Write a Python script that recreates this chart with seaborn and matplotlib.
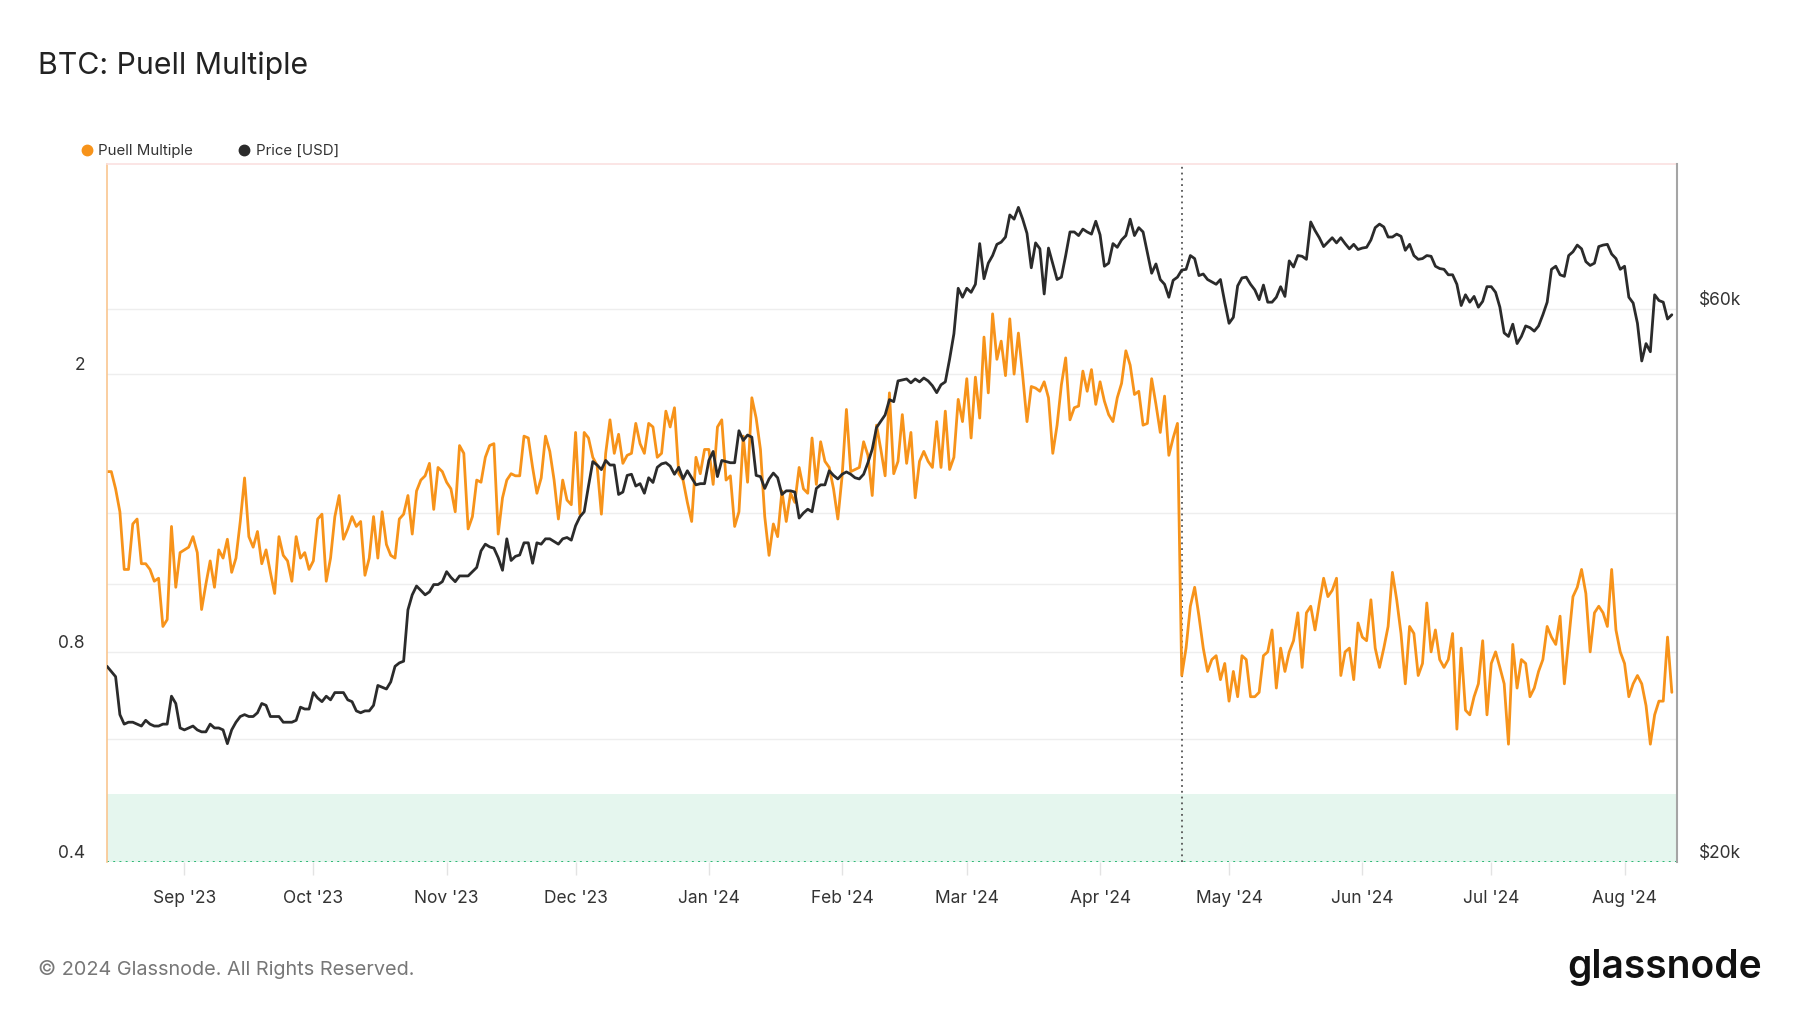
import numpy as np
import pandas as pd
import matplotlib
matplotlib.use("Agg")
from matplotlib import pyplot as plt
from matplotlib.lines import Line2D
from matplotlib.ticker import NullLocator, NullFormatter
import matplotlib.dates as mdates
import matplotlib.transforms as mtransforms
import seaborn as sns

# daily data, first day 2023-08-14
start = "2023-08-14"
halving = "2024-04-20"

puell = [
    1.45, 1.45, 1.37, 1.27, 1.05, 1.05, 1.22, 1.24, 1.07, 1.07,
    1.05, 1.01, 1.02, 0.87, 0.89, 1.21, 0.99, 1.11, 1.12, 1.13,
    1.17, 1.11, 0.92, 1.00, 1.08, 0.99, 1.12, 1.09, 1.16, 1.04,
    1.09, 1.23, 1.42, 1.17, 1.13, 1.19, 1.07, 1.12, 1.04, 0.97,
    1.17, 1.10, 1.08, 1.01, 1.17, 1.09, 1.11, 1.05, 1.08, 1.24,
    1.26, 1.01, 1.09, 1.25, 1.34, 1.16, 1.20, 1.25, 1.21, 1.23,
    1.03, 1.09, 1.25, 1.09, 1.27, 1.14, 1.10, 1.09, 1.24, 1.26,
    1.34, 1.18, 1.36, 1.41, 1.43, 1.49, 1.28, 1.47, 1.45, 1.40,
    1.37, 1.27, 1.58, 1.54, 1.20, 1.25, 1.41, 1.40, 1.52, 1.58,
    1.59, 1.18, 1.33, 1.41, 1.44, 1.43, 1.43, 1.63, 1.62, 1.47,
    1.35, 1.42, 1.63, 1.55, 1.41, 1.24, 1.41, 1.32, 1.30, 1.65,
    1.26, 1.65, 1.62, 1.52, 1.48, 1.26, 1.54, 1.72, 1.54, 1.64,
    1.49, 1.53, 1.54, 1.70, 1.59, 1.54, 1.70, 1.68, 1.52, 1.54,
    1.77, 1.68, 1.79, 1.44, 1.41, 1.31, 1.23, 1.52, 1.44, 1.56,
    1.56, 1.39, 1.68, 1.72, 1.41, 1.43, 1.21, 1.27, 1.63, 1.40,
    1.85, 1.73, 1.56, 1.25, 1.10, 1.22, 1.17, 1.36, 1.23, 1.35,
    1.31, 1.47, 1.37, 1.35, 1.62, 1.39, 1.60, 1.50, 1.47, 1.37,
    1.24, 1.43, 1.78, 1.45, 1.46, 1.47, 1.60, 1.53, 1.34, 1.69,
    1.56, 1.43, 1.88, 1.44, 1.50, 1.75, 1.49, 1.65, 1.33, 1.50,
    1.55, 1.50, 1.47, 1.71, 1.47, 1.77, 1.46, 1.52, 1.84, 1.71,
    1.97, 1.62, 1.98, 1.73, 2.26, 1.88, 2.44, 2.10, 2.23, 1.99,
    2.40, 2.00, 2.29, 1.99, 1.71, 1.92, 1.91, 1.89, 1.95, 1.85,
    1.54, 1.69, 1.93, 2.11, 1.72, 1.79, 1.80, 2.02, 1.89, 2.03,
    1.81, 1.95, 1.83, 1.75, 1.71, 1.85, 1.94, 2.16, 2.06, 1.87,
    1.89, 1.69, 1.70, 1.97, 1.81, 1.65, 1.86, 1.53, 1.62, 1.70,
    0.74, 0.81, 0.93, 0.99, 0.90, 0.81, 0.75, 0.78, 0.79, 0.73,
    0.77, 0.68, 0.75, 0.69, 0.79, 0.78, 0.69, 0.69, 0.70, 0.79,
    0.80, 0.86, 0.71, 0.81, 0.75, 0.80, 0.83, 0.91, 0.76, 0.91,
    0.93, 0.86, 0.94, 1.02, 0.96, 0.98, 1.02, 0.74, 0.80, 0.81,
    0.73, 0.88, 0.84, 0.83, 0.95, 0.81, 0.76, 0.81, 0.87, 1.04,
    0.95, 0.85, 0.72, 0.87, 0.85, 0.74, 0.77, 0.94, 0.80, 0.86,
    0.78, 0.76, 0.78, 0.85, 0.62, 0.81, 0.66, 0.65, 0.69, 0.72,
    0.83, 0.65, 0.77, 0.80, 0.76, 0.72, 0.59, 0.82, 0.71, 0.78,
    0.77, 0.69, 0.71, 0.75, 0.78, 0.87, 0.84, 0.82, 0.90, 0.72,
    0.83, 0.96, 0.99, 1.05, 0.97, 0.80, 0.91, 0.93, 0.91, 0.87,
    1.05, 0.86, 0.80, 0.77, 0.69, 0.72, 0.74, 0.72, 0.67, 0.59,
    0.65, 0.68, 0.68, 0.84, 0.70,
]

# BTC price in thousand USD
price_k = [
    29.5, 29.2, 28.9, 26.8, 26.3, 26.4, 26.4, 26.3, 26.2, 26.5,
    26.3, 26.2, 26.2, 26.3, 26.3, 27.8, 27.4, 26.1, 26.0, 26.1,
    26.2, 26.0, 25.9, 25.9, 26.3, 26.1, 26.1, 26.0, 25.3, 26.0,
    26.4, 26.7, 26.8, 26.7, 26.7, 26.9, 27.4, 27.3, 26.7, 26.7,
    26.7, 26.4, 26.4, 26.4, 26.5, 27.2, 27.1, 27.1, 28.0, 27.7,
    27.5, 27.8, 27.6, 28.0, 28.0, 28.0, 27.6, 27.5, 27.0, 26.9,
    27.0, 27.0, 27.3, 28.4, 28.3, 28.2, 28.6, 29.5, 29.7, 29.8,
    33.0, 34.0, 34.6, 34.3, 34.0, 34.2, 34.7, 34.7, 34.9, 35.6,
    35.2, 34.9, 35.3, 35.3, 35.3, 35.6, 35.9, 37.1, 37.6, 37.4,
    37.3, 36.6, 35.7, 38.0, 36.4, 36.7, 36.8, 37.7, 37.7, 36.2,
    37.7, 37.6, 38.0, 38.0, 37.8, 37.6, 38.0, 38.1, 37.9, 39.0,
    39.7, 40.1, 42.2, 44.3, 44.0, 43.6, 44.4, 44.0, 44.0, 41.5,
    41.7, 43.1, 43.2, 42.2, 42.4, 41.6, 42.9, 42.5, 43.8, 44.1,
    44.2, 43.9, 43.2, 43.8, 42.8, 43.5, 42.9, 42.3, 42.4, 42.4,
    44.4, 45.2, 43.0, 44.4, 44.3, 44.2, 44.2, 47.1, 46.2, 46.7,
    46.5, 43.1, 43.0, 42.0, 42.8, 43.3, 42.9, 41.5, 41.8, 41.8,
    41.7, 39.6, 40.0, 40.3, 40.1, 42.0, 42.3, 42.3, 43.5, 43.1,
    42.8, 43.2, 43.4, 43.2, 42.9, 42.8, 43.2, 44.2, 45.4, 47.4,
    48.0, 48.6, 50.1, 49.9, 52.0, 52.1, 52.2, 51.8, 52.2, 51.9,
    52.3, 52.0, 51.5, 50.8, 51.6, 51.9, 54.3, 57.1, 62.5, 61.4,
    62.5, 62.0, 63.0, 68.3, 63.7, 65.7, 66.7, 68.2, 68.5, 69.2,
    72.3, 71.7, 73.4, 71.7, 69.7, 65.1, 68.4, 67.6, 61.8, 67.7,
    65.6, 63.6, 63.9, 66.7, 69.9, 69.9, 69.4, 70.3, 69.9, 69.6,
    71.4, 69.5, 65.3, 65.7, 68.3, 67.8, 68.8, 69.4, 71.7, 69.4,
    70.5, 69.9, 67.1, 64.4, 65.6, 63.6, 63.0, 61.4, 63.5, 63.9,
    64.8, 64.9, 66.7, 66.3, 64.1, 64.3, 63.6, 63.3, 63.0, 63.6,
    60.8, 58.3, 59.0, 62.8, 63.8, 63.9, 63.0, 62.3, 61.1, 62.9,
    60.8, 60.8, 61.4, 62.7, 61.5, 66.0, 65.2, 66.7, 66.6, 66.2,
    71.3, 70.1, 69.1, 67.9, 68.5, 69.1, 68.4, 69.1, 68.3, 67.6,
    68.2, 67.5, 67.7, 67.8, 68.8, 70.5, 71.0, 70.6, 69.2, 69.2,
    69.6, 69.3, 67.4, 68.2, 66.7, 66.2, 66.3, 66.7, 66.6, 65.3,
    65.0, 64.9, 64.2, 64.2, 63.0, 60.4, 61.7, 60.8, 61.5, 60.2,
    60.9, 62.7, 62.7, 62.0, 60.2, 57.2, 56.8, 58.2, 56.0, 56.8,
    58.0, 57.8, 57.4, 58.0, 59.3, 60.8, 64.9, 65.3, 64.2, 64.0,
    66.7, 67.2, 68.1, 67.6, 65.9, 65.4, 65.7, 67.9, 68.1, 68.2,
    66.9, 66.3, 64.9, 65.3, 61.4, 60.7, 58.3, 54.1, 56.0, 55.1,
    61.7, 61.0, 60.8, 58.8, 59.3,
]

month_ticks = pd.date_range("2023-09-01", "2024-08-01", freq="MS")
left_ticks = [0.4, 0.8, 2]
left_labels = ["0.4", "0.8", "2"]
right_ticks = [20000, 60000]
right_labels = ["$20k", "$60k"]
left_grid = [0.6, 0.8, 1, 2]
right_grid = [40000, 60000]

orange = "#f7931a"
dark = "#2b2b2b"

dates = pd.date_range(start, periods=len(puell), freq="D")
df = pd.DataFrame({"date": dates, "puell": puell, "price": np.array(price_k) * 1000})

sns.set_theme(style="white")
plt.rcParams["font.family"] = ["Inter", "DejaVu Sans"]

W, H = 1800, 1013
fig = plt.figure(figsize=(W / 100, H / 100), dpi=100)
ax = fig.add_axes([107 / W, 1 - 862 / H, (1677 - 107) / W, (862 - 164) / H])
ax2 = ax.twinx()

ax.set_yscale("log")
ax2.set_yscale("log")

# lines
sns.lineplot(data=df, x="date", y="puell", ax=ax, color=orange, lw=2.0)
sns.lineplot(data=df, x="date", y="price", ax=ax2, color=dark, lw=2.0)

ax.set_ylim(0.4, 4.0)
ax2.set_ylim(20000, 80000)
ax.set_xlim(pd.Timestamp(start), pd.Timestamp(start) + pd.Timedelta(days=365.2))

# grid lines (right-axis ones drawn on ax so they stay under the lines)
for g in left_grid:
    ax.axhline(g, color="#eeeeee", lw=1, zorder=0)
tr = mtransforms.blended_transform_factory(ax.transAxes, ax2.transData)
for g in right_grid:
    ax.plot([0, 1], [g, g], transform=tr, color="#eeeeee", lw=1, zorder=0)

# green band + halving marker
ax.axhspan(0.4, 0.5, color="#e5f6ee", lw=0, zorder=0)
ax.axhline(0.4, color="#2bb673", lw=1.4, ls=(0, (1, 2.2)), zorder=1)
ax.axvline(pd.Timestamp(halving), color="#555555", lw=1.3, ls=(0, (1, 2.2)), zorder=1)

# y axes
for a, ticks, labels in [(ax, left_ticks, left_labels), (ax2, right_ticks, right_labels)]:
    a.yaxis.set_minor_locator(NullLocator())
    a.yaxis.set_minor_formatter(NullFormatter())
    a.set_yticks(ticks)
    a.set_yticklabels(labels)
    a.tick_params(axis="y", length=0, pad=16, labelsize=12.5, labelcolor="#333333")
    for lab in a.get_yticklabels():
        lab.set_verticalalignment("bottom")
    a.set_ylabel("")
    a.set_xlabel("")

# x axis
ax.set_xticks(month_ticks)
ax.xaxis.set_major_formatter(mdates.DateFormatter("%b '%y"))
ax.tick_params(axis="x", bottom=True, length=9, width=1, color="#e3e3e3", pad=11.5,
               labelsize=12.5, labelcolor="#333333")

# spines
for s in ax2.spines.values():
    s.set_visible(False)
ax2.spines["right"].set_visible(True)
ax2.spines["right"].set_color("#a5a5a5")
ax2.spines["right"].set_linewidth(1.5)
ax.spines["right"].set_visible(False)
ax.spines["bottom"].set_visible(False)
ax.spines["left"].set_color("#f9c690")
ax.spines["left"].set_linewidth(1.2)
ax.spines["top"].set_color("#fbe0e0")
ax.spines["top"].set_linewidth(1.2)

# legend
handles = [Line2D([0], [0], marker="o", ls="", color=orange, markersize=7.5),
           Line2D([0], [0], marker="o", ls="", color=dark, markersize=7.5)]
fig.legend(handles, ["Puell Multiple", "Price [USD]"], loc="center left",
           bbox_to_anchor=(73 / W, 1 - 151 / H), ncol=2, frameon=False, fontsize=10.8,
           handletextpad=0.4, handlelength=0.8, columnspacing=2.95, borderpad=0,
           labelcolor="#333333")

fig.text(38 / W, 1 - 66 / H, "BTC: Puell Multiple", fontsize=21.8, va="center", color="#222222")
fig.text(38 / W, 1 - 969 / H, "© 2024 Glassnode. All Rights Reserved.", fontsize=14.3,
         va="center", color="#777777")
fig.text(1762 / W, 1 - 967 / H, "glassnode", fontsize=28, ha="right", va="center",
         color="#111111", fontweight="semibold")

fig.savefig("out.png", dpi=100, facecolor="white")
